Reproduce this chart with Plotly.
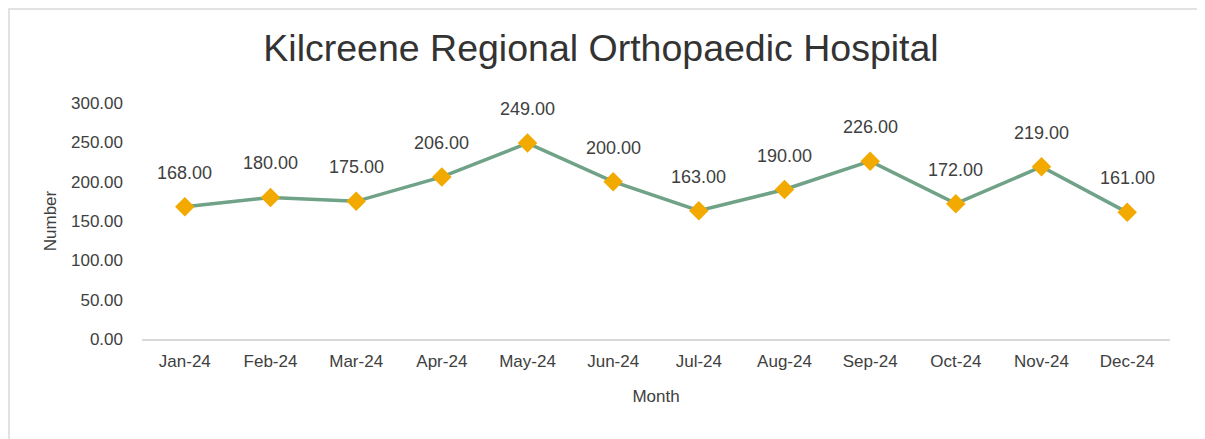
import plotly.graph_objects as go

months = ["Jan-24", "Feb-24", "Mar-24", "Apr-24", "May-24", "Jun-24",
          "Jul-24", "Aug-24", "Sep-24", "Oct-24", "Nov-24", "Dec-24"]
values = [168, 180, 175, 206, 249, 200, 163, 190, 226, 172, 219, 161]
y_ticks = [0, 50, 100, 150, 200, 250, 300]

W, H = 1205, 439
OFF = 8  # page body margin
ML, MR, MT, MB = 142 - OFF, 35 + OFF, 103 - OFF, 100 + OFF
pw = W - ML - MR
ph = H - MT - MB

fig = go.Figure()
fig.add_trace(go.Scatter(
    x=months, y=values, mode="lines+markers",
    line=dict(color="#6FA287", width=3.5),
    marker=dict(symbol="diamond", size=15, color="#F2A900"),
    hoverinfo="x+y", showlegend=False,
))

for m, v in zip(months, values):
    fig.add_annotation(x=m, y=v, text=f"{v:.2f}", showarrow=False,
                       yshift=34, font=dict(size=18, color="#404040"))

# outer chart border (screen pixel coords -> paper coords)
def px_x(p):
    return (p - OFF - ML) / pw
def px_y(p):
    return 1 - (p - OFF - MT) / ph

fig.add_shape(type="rect", xref="paper", yref="paper",
              x0=px_x(OFF + 1), x1=px_x(1198), y0=px_y(450), y1=px_y(OFF + 1),
              line=dict(color="#D9D9D9", width=1.5), fillcolor="rgba(0,0,0,0)")

fig.update_layout(
    width=W, height=H,
    margin=dict(l=ML, r=MR, t=MT, b=MB),
    paper_bgcolor="white", plot_bgcolor="white",
    font=dict(family="Liberation Sans, Arial, sans-serif", color="#404040"),
    title=dict(text="Kilcreene Regional Orthopaedic Hospital",
               x=px_x(601), xref="paper", xanchor="center",
               y=1 - (48 - OFF) / H, yanchor="middle",
               font=dict(size=37.5, color="#333333")),
)
fig.update_xaxes(
    type="category", showgrid=False, showline=True, linecolor="#D9D9D9", linewidth=1.5,
    tickfont=dict(size=17, color="#404040"), ticks="", ticklabelstandoff=6,
    title=dict(text="Month", font=dict(size=17, color="#404040"), standoff=20),
    range=[-0.5, 11.5],
)
fig.update_yaxes(
    range=[0, 300], tickvals=y_ticks, tickformat=".2f", showgrid=False, zeroline=False,
    showline=False, tickfont=dict(size=17, color="#404040"), ticklabelstandoff=18,
    title=dict(text="Number", font=dict(size=17, color="#404040"), standoff=10),
)

fig.write_html("out.html")
